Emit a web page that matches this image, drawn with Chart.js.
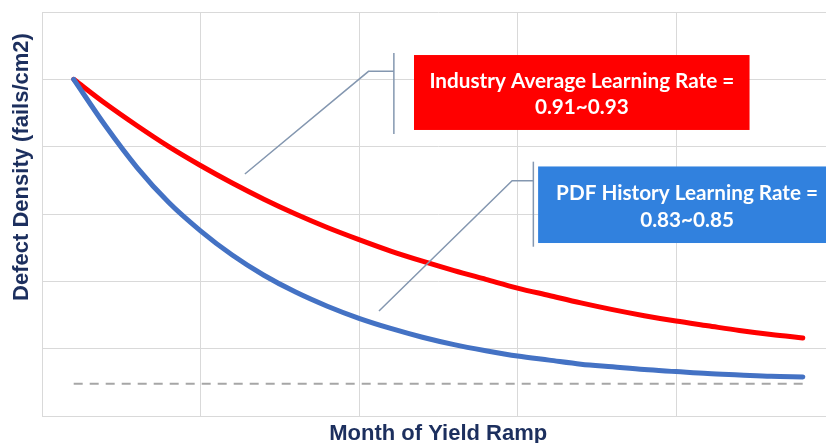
<!DOCTYPE html>
<html>
<head>
<meta charset="utf-8">
<script src="https://cdn.jsdelivr.net/npm/chart.js@4/dist/chart.umd.min.js"></script>
<style>
  html, body { margin: 0; padding: 0; background: #ffffff; overflow: hidden; width: 826px; height: 443px; }
  #wrap { position: absolute; left: 0; top: 0; width: 842px; height: 443px; }
</style>
</head>
<body>
<div id="wrap"><canvas id="c" width="842" height="443"></canvas></div>
<script>
// ---- data ----
const months = [1,2,3,4,5,6,7,8,9,10,11,12,13,14,15,16,17,18,19,20,21,22,23,24];
const industryDensity = [5.00,4.64,4.31,4.00,3.72,3.46,3.22,3.00,2.80,2.62,2.45,2.30,2.16,2.03,1.90,1.79,1.68,1.58,1.49,1.41,1.34,1.27,1.21,1.16];
const pdfDensity = [5.00,4.31,3.69,3.17,2.75,2.39,2.09,1.84,1.63,1.45,1.30,1.17,1.06,0.97,0.89,0.83,0.77,0.73,0.69,0.66,0.63,0.61,0.59,0.58];
const baselineMonths = [1, 24];
const baselineDensity = [0.48, 0.48];

const xTitle = "Month of Yield Ramp";
const yTitle = "Defect Density (fails/cm2)";
const industryLabel = ["Industry Average Learning Rate =", "0.91~0.93"];
const pdfLabel = ["PDF History Learning Rate =", "0.83~0.85"];

const toXY = (xs, ys) => xs.map((x, i) => ({ x: x, y: ys[i] }));

const GRID = "#d9d9d9";
const NAVY = "#1c2f5e";
const CALLOUT = "#8497b0";

const decorPlugin = {
  id: "decor",
  afterDatasetsDraw(chart) {
    const ctx = chart.ctx;
    const xs = chart.scales.x, ys = chart.scales.y;
    const px = v => xs.getPixelForValue(v);
    const py = v => ys.getPixelForValue(v);
    ctx.save();

    // callout leader lines
    ctx.strokeStyle = CALLOUT;
    ctx.lineWidth = 1.5;
    function callout(endX, endY, elbowX, elbowY, barX, barTop, barBot) {
      ctx.beginPath();
      ctx.moveTo(px(endX), py(endY));
      ctx.lineTo(px(elbowX), py(elbowY));
      ctx.lineTo(px(barX), py(elbowY));
      ctx.stroke();
      ctx.beginPath();
      ctx.moveTo(px(barX), py(barTop));
      ctx.lineTo(px(barX), py(barBot));
      ctx.stroke();
    }
    callout(6.40, 3.594, 10.30, 5.119, 11.10, 5.391, 4.188);
    callout(10.63, 1.559, 14.83, 3.495, 15.50, 3.777, 2.514);

    // boxes
    function box(x0, y0, x1, y1, color, lines, cx, l1y, l2y, size) {
      ctx.fillStyle = color;
      ctx.fillRect(px(x0), py(y0), px(x1) - px(x0), py(y1) - py(y0));
      ctx.fillStyle = "#ffffff";
      ctx.font = "bold " + size + "px Lato, 'Open Sans', sans-serif";
      ctx.textAlign = "center";
      ctx.textBaseline = "middle";
      ctx.fillText(lines[0], px(cx), l1y);
      ctx.fillText(lines[1], px(cx), l2y);
    }
    // font size fitted so the first red line spans ~305px like the reference
    ctx.font = "bold 17px Lato, 'Open Sans', sans-serif";
    const w = ctx.measureText(industryLabel[0]).width;
    const size = (17 * 305 / w).toFixed(2);
    box(11.735, 5.361, 22.32, 4.248, "#ff0000", industryLabel, 17.03, 81, 107, size);
    box(15.65, 3.706, 25.03, 2.569, "#3181de", pdfLabel, 20.35, 193.5, 220, size);

    // axis titles
    ctx.fillStyle = NAVY;
    ctx.font = "bold 22px 'Liberation Sans', Arial, sans-serif";
    ctx.textAlign = "center";
    ctx.textBaseline = "middle";
    ctx.save();
    ctx.translate(22, 167);
    ctx.rotate(-Math.PI / 2);
    ctx.fillText(yTitle, 0, 0);
    ctx.restore();
    ctx.font = "bold 22px 'Liberation Sans', Arial, sans-serif";
    ctx.textBaseline = "alphabetic";
    ctx.fillText(xTitle, (chart.chartArea.left + chart.chartArea.right) / 2, 440);
    ctx.restore();
  }
};

new Chart(document.getElementById("c"), {
  type: "line",
  data: {
    datasets: [
      {
        label: "PDF History",
        data: toXY(months, pdfDensity),
        borderColor: "#4472c4",
        borderWidth: 5,
        pointRadius: 0,
        cubicInterpolationMode: "monotone",
        borderCapStyle: "round",
        borderJoinStyle: "round",
        fill: false
      },
      {
        label: "Industry Average",
        data: toXY(months, industryDensity),
        borderColor: "#ff0000",
        borderWidth: 5,
        pointRadius: 0,
        cubicInterpolationMode: "monotone",
        borderCapStyle: "round",
        borderJoinStyle: "round",
        fill: false
      },
      {
        label: "Baseline",
        data: toXY(baselineMonths, baselineDensity),
        borderColor: "#a6a6a6",
        borderWidth: 2,
        borderDash: [9, 7],
        pointRadius: 0,
        fill: false
      }
    ]
  },
  options: {
    responsive: false,
    animation: false,
    devicePixelRatio: 1,
    layout: { padding: { left: 42, top: 12, bottom: 27, right: 7.5 } },
    plugins: { legend: { display: false }, tooltip: { enabled: false }, title: { display: false } },
    scales: {
      x: {
        type: "linear",
        min: 0, max: 25,
        ticks: { display: false, stepSize: 5 },
        grid: { color: GRID, lineWidth: 1, drawTicks: false },
        border: { display: true, color: GRID }
      },
      y: {
        min: 0, max: 6,
        ticks: { display: false, stepSize: 1 },
        grid: { color: GRID, lineWidth: 1, drawTicks: false },
        border: { display: true, color: GRID }
      }
    }
  },
  plugins: [decorPlugin]
});
</script>
</body>
</html>
